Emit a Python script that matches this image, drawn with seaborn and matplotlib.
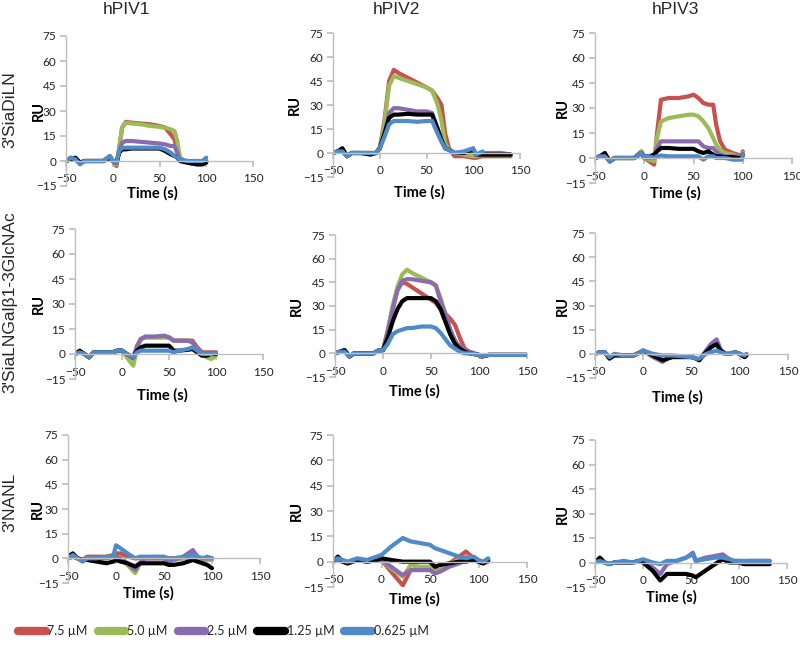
import numpy as np
import pandas as pd
import matplotlib.pyplot as plt
import seaborn as sns
from matplotlib.lines import Line2D

# labels
columns = ["hPIV1", "hPIV2", "hPIV3"]
rows = ["3'SiaDiLN", "3'SiaLNGalβ1-3GlcNAc", "3'NANL"]
concs = ["7.5 µM", "5.0 µM", "2.5 µM", "1.25 µM", "0.625 µM"]
colors = ["#C9514D", "#9BBB59", "#8A6BB0", "#000000", "#4F8BC9"]
x_ticks = [-50, 0, 50, 100, 150]
y_ticks = [-15, 0, 15, 30, 45, 60, 75]

# row 1 (3'SiaDiLN), hPIV1
t11 = [-50, -45, -40, -35, -30, -20, -10, -3, 0, 4, 7, 10, 14, 20, 30, 40, 50, 56, 62, 66, 69, 72, 80, 90, 96, 100]
r11 = [0, 2, 1, -1, 0, 0, 0, 3, 0, -3, 8, 20, 23.5, 23, 22.5, 22, 21, 20, 16, 13, 6, 1, -1, -2, -2, 0]
g11 = [0, 1, 1, -1, 0, 0, 0, 3, 0, -2, 8, 20, 23, 22.5, 22, 21, 20.5, 20, 19, 18, 12, 2, -1, -1, -1, 0]
p11 = [0, 1, 1, -1, 0, 0, 0, 2, 0, -1, 6, 11, 12, 12, 11.5, 11, 10.5, 10, 9, 9, 5, 0, -1, -2, -1, 0]
k11 = [0, 1, 2, -1, 0, 0, 0, 2, 0, -1, 5, 7, 7, 7.5, 7.5, 7.5, 7.5, 6, 4, 3, 2, 0, -1, -2, -2, -1]
b11 = [0, 2, 1, -2, 0, 0, 0, 3, 0, -1, 6, 8, 8, 8, 8, 8, 8, 7, 5, 3, 2, 1, 0, 0, 0, 2]

# row 1, hPIV2
t12 = [-50, -45, -40, -35, -30, -20, -10, -4, 0, 5, 10, 15, 20, 30, 40, 50, 56, 62, 66, 70, 74, 80, 90, 100, 103, 110, 120, 130, 140]
r12 = [0, 1, 1, -2, 0, 0, 0, 0, 3, 20, 45, 52, 50, 47, 44, 41, 39, 34, 30, 12, 3, -2, -2, -3, -3, -2, -2, -2, -2]
g12 = [0, 1, 1, -2, 0, 0, 0, 0, 3, 18, 42, 48, 47, 45, 43, 41, 39, 30, 20, 6, 2, 0, -1, -2, -2, -1, -1, -1, -1]
p12 = [0, 1, 2, -2, 0, 0, 0, 0, 3, 12, 25, 28, 28, 27, 26, 26, 25, 15, 8, 3, 2, 0, 0, 1, -1, 0, 0, 0, -1]
k12 = [0, 1, 3, -2, 0, 0, -1, 0, 3, 12, 22, 24, 24, 24.5, 24, 24, 24, 15, 8, 3, 2, 0, 0, 2, -1, -1, -1, -1, -1]
b12 = [0, 1, 1, -2, 0, 0, 0, 0, 3, 10, 18, 20, 20, 20, 19.5, 20, 20, 12, 7, 3, 2, 0, 1, 3, -1, 1, None, None, None]

# row 1, hPIV3
t13 = [-50, -45, -40, -35, -30, -20, -10, -3, 0, 5, 10, 13, 17, 25, 35, 45, 50, 55, 60, 65, 70, 73, 77, 82, 90, 95, 99, 100]
r13 = [0, 1, 2, -2, 0, 0, 0, 4, 0, -2, -4, 15, 35, 36, 36, 37, 38, 36, 33, 32, 32, 20, 10, 5, 3, 2, 1, 4]
g13 = [0, 1, 2, -2, 0, 0, 0, 4, 0, -1, -2, 12, 22, 24, 25, 26, 26, 25, 22, 18, 12, 8, 5, 3, 2, 1, 1, 3]
p13 = [0, 1, 2, -2, 0, 0, 0, 3, 0, 0, 1, 6, 10, 10, 10, 10, 10, 10, 7, 6, 6, 4, 2, 1, 1, 1, 0, 2]
k13 = [0, 1, 3, -2, 0, 0, 0, 3, 1, 1, 2, 4, 6, 6, 5.5, 5.5, 5.5, 4, 3, 4, 2, 1, 1, 0.5, 0.5, 0, 0, 2]
b13 = [0, 1, 1, -2, 0, 0, 0, 3, 1, 1, 0, 1, 1.5, 1, 1, 1, 1, 1, -1, 1, 1, 0, 0, 0, -1, -1, -1, 2]

# row 2 (3'SiaLNGalb1-3GlcNAc), hPIV1
t21 = [-50, -45, -40, -35, -30, -20, -10, -5, 0, 5, 12, 16, 20, 25, 35, 45, 50, 55, 60, 70, 75, 80, 85, 90, 95, 100]
r21 = [0, 1, 0, -2, 1, 1, 1, 2, 2, 0, -3, 4, 9, 10, 10, 10, 10, 8, 8, 8, 8, 4, 1, 1, 1, 1]
g21 = [0, 1, 0, -2, 1, 1, 1, 2, 2, -2, -7, 3, 9, 10, 10, 10, 10, 8, 8, 8, 7, 3, 0, -2, -3, -1]
p21 = [0, 1, 0, -2, 1, 1, 1, 2, 2, 0, -2, 5, 9, 10.5, 10.5, 11, 10, 8, 8, 8, 7, 3, 1, 0, 0, 0]
k21 = [0, 2, 0, -2, 1, 1, 1, 2, 2, 0, -2, 2, 4, 5, 5, 5, 5, 2, 2, 2.5, 3, 1, -1, -1, 0, 0]
b21 = [0, 1, 0, -2, 1, 1, 1, 2, 2, 0, -2, 1, 2, 2, 2, 2, 2, 1, 2, 3, 4, 2, 0, 0, 0, 1]

# row 2, hPIV2
t22 = [-50, -45, -40, -35, -30, -20, -10, -4, 0, 5, 10, 15, 20, 25, 30, 40, 50, 55, 60, 65, 70, 75, 80, 85, 90, 100, 103, 110, 120, 130, 140, 150]
r22 = [0, 1, 2, -2, 0, 0, 0, 2, 2, 14, 28, 40, 45, 44, 42, 38, 34, 32, 28, 25, 22, 18, 10, 3, 1, -1, -2, -1, -1, -1, -1, -1]
g22 = [0, 1, 2, -2, 0, 0, 0, 2, 2, 15, 30, 42, 50, 53, 51, 48, 45, 43, 35, 25, 15, 8, 3, 1, 0, -1, -2, -1, -1, -1, -1, -1]
p22 = [0, 1, 2, -2, 0, 0, 0, 2, 2, 14, 28, 40, 46, 47, 47, 46, 45, 43, 33, 25, 15, 8, 4, 2, 1, -1, -2, -1, -1, -1, -1, -1]
k22 = [0, 1, 2, -2, 0, 0, 0, 2, 2, 10, 20, 28, 33, 35, 35, 35, 35, 33, 28, 20, 12, 6, 3, 1, 0, -1, -2, -1, -1, -1, -1, -1]
b22 = [0, 1, 1, -2, 0, 0, 0, 2, 2, 6, 12, 14, 15, 16, 16, 17, 17, 16, 13, 9, 5, 3, 1, 0, 0, -1, -2, -1, -1, -1, -1, -1]

# row 2, hPIV3 (only three traces visible)
t23 = [-50, -45, -40, -35, -30, -20, -10, -3, 0, 10, 20, 25, 30, 40, 50, 55, 58, 65, 70, 76, 80, 85, 90, 95, 100, 105, 107]
p23 = [0, 1, 1, -2, -1, -1, -1, 1, 2, -2, -5, -3, -2, -2, -2, -3, -4, 2, 6, 9, 3, 0, 0, 1, 0, -2, -1]
k23 = [0, 1, 1, -3, -1, -1, -1, 1, 2, -1, -4, -3, -2, -2, -2, -3, -4, 1, 4, 6, 2, 0, 0, 1, 0, -2, -1]
b23 = [0, 1, 1, -2, 0, -1, -1, 1, 2, 0, -1, -1, -1, -1.5, -2, -3, -3, 0, 1, 2, 1, 0, 0, 1, 0, -1, 0]

# row 3 (3'NANL), hPIV1
t31 = [-50, -45, -40, -35, -30, -20, -10, -3, 0, 5, 12, 20, 25, 30, 40, 50, 55, 60, 70, 80, 85, 90, 95, 100]
r31 = [0, 1, 0, -1, 1, 1, 1, 2, 3, 3, 1, 0, 0, 0, 0, 0, 0, 0, 0, 1, 0, 0, 0, 0]
g31 = [0, 1, 0, -1, 0, 0, 0, 1, 1, 0, -4, -9, -3, 0, 1, 0, -2, -1, 0, 2, 0, -2, -1, -1]
p31 = [0, 1, 0, -1, 0, 0, 0, 1, 1, 0, -3, -7, -3, 0, 0, 0, -2, -1, 1, 5, 1, 0, 0, 0]
k31 = [1, 3, 0, -1, -1, -2, -3, -2, -1, -2, -3, -5, -3, -3, -3, -3, -4, -4, -3, -1, -2, -3, -4, -6]
b31 = [0, 2, 0, -2, 0, 0, 1, 1, 8, 6, 3, 0, 1, 1, 1, 1, 0, 0, 1, 2, 1, 0, 1, 0]

# row 3, hPIV2
t32 = [-50, -45, -40, -35, -30, -25, -15, -5, 0, 10, 22, 30, 40, 50, 55, 60, 70, 80, 87, 95, 100, 105, 110]
r32 = [0, 1, 0, -1, 0, 1, 0, 1, 1, -6, -14, -5, -4, -4, -5, -5, -1, 3, 6, 2, 0, -1, 1]
g32 = [0, 1, 0, -1, 0, 1, 0, 1, 1, -4, -9, -2, -3, -3, -6, -5, -1, 1, 3, 2, 0, -1, 1]
p32 = [0, 1, 0, -1, 0, 1, 0, 1, 1, -3, -8, -5, -5, -5, -7, -6, -3, -1, 1, 1, 0, -1, 0]
k32 = [0, 3, 0, -1, 0, 1, 0, 1, 2, 1, 0, 0, 0, 0, -3, -2, -1, 0, 0, 1, 0, -1, 1]
b32 = [1, 2, 1, 0, 1, 2, 1, 3, 4, 9, 14, 12, 11, 10, 8, 7, 5, 3, 2, 3, 1, 0, 2]

# row 3, hPIV3 (only three traces visible)
t33 = [-50, -45, -40, -35, -30, -20, -10, -5, 0, 10, 18, 25, 35, 45, 52, 55, 65, 75, 83, 90, 95, 100, 105, 110, 120, 132]
p33 = [0, 1, 0, -1, 0, 0, 0, 1, 1, -3, -7, -1, 1, 3, 6, 1, 3, 4, 5, 2, 1, 1, 0, 1, 1, 1]
k33 = [0, 3, 0, -1, 0, 0, 0, 1, 0, -5, -11, -7, -7, -7, -8, -9, -5, -1, 2, 0, 0, 0, -1, -1, -1, -1]
b33 = [0, 1, 0, -1, 0, 1, 0, 1, 2, 0, -1, 1, 1, 3, 5, 1, 2, 3, 3, 2, 1, 1, 1, 1, 1, 1]

panels = [
    (t11, [r11, g11, p11, k11, b11]), (t12, [r12, g12, p12, k12, b12]), (t13, [r13, g13, p13, k13, b13]),
    (t21, [r21, g21, p21, k21, b21]), (t22, [r22, g22, p22, k22, b22]), (t23, [None, None, p23, k23, b23]),
    (t31, [r31, g31, p31, k31, b31]), (t32, [r32, g32, p32, k32, b32]), (t33, [None, None, p33, k33, b33]),
]

# panel boxes in pixels: left, top, right, bottom, RU x, "Time" x, "Time" y
layout = [
    (66, 36, 253, 186, 39, 152, 193), (333, 33, 520, 177, 295, 419, 192), (595, 33, 792, 183, 563, 675, 193),
    (75, 229, 263, 379, 39, 162, 395), (335, 235, 527, 377, 297, 414, 391), (595, 233, 788, 378, 563, 677, 397),
    (68, 435, 260, 583, 38, 148, 593), (333, 435, 527, 587, 297, 414, 599), (595, 440, 787, 587, 563, 671, 597),
]

W, H = 800, 652
sns.set_theme(style="white")
plt.rcParams["font.family"] = ["Lato", "DejaVu Sans"]

fig = plt.figure(figsize=(W / 100, H / 100), dpi=100)
axis_grey = "#BFBFBF"

for (t, series), (l, tp, r, b, ru_x, tx, ty) in zip(panels, layout):
    ax = fig.add_axes([l / W, 1 - b / H, (r - l) / W, (b - tp) / H])
    frames = []
    for conc, vals in zip(concs, series):
        if vals is None:
            continue
        frames.append(pd.DataFrame({"time": t, "RU": vals, "conc": conc}))
    df = pd.concat(frames).dropna()
    sns.lineplot(data=df, x="time", y="RU", hue="conc", hue_order=concs,
                 palette=colors, linewidth=3.0, estimator=None, sort=False,
                 legend=False, ax=ax)
    ax.set_xlim(-50, 150)
    ax.set_ylim(-15, 75)
    ax.set_xticks(x_ticks)
    ax.set_yticks(y_ticks)
    for s in ["top", "right"]:
        ax.spines[s].set_visible(False)
    ax.spines["bottom"].set_position(("data", 0))
    for s in ["left", "bottom"]:
        ax.spines[s].set_color(axis_grey)
        ax.spines[s].set_linewidth(1)
    ax.tick_params(axis="both", direction="out", length=4, color=axis_grey,
                   labelsize=8.5, labelcolor="#222222", bottom=True, left=True)
    ax.tick_params(axis="x", pad=5)
    ax.tick_params(axis="y", pad=3)
    ax.set_xlabel("Time (s)", fontsize=10.5, fontweight="bold", color="black")
    ax.set_ylabel("RU", fontsize=10.5, fontweight="bold", color="black")
    ax.xaxis.set_label_coords((tx - l) / (r - l), -(ty - b) / (b - tp))
    ax.xaxis.label.set_va("center")
    ax.yaxis.set_label_coords((ru_x - l) / (r - l), 0.5)
    ax.yaxis.label.set_va("center")
    ax.patch.set_alpha(0)

# column titles
for name, cx in zip(columns, [126, 396, 675]):
    fig.text(cx / W, 1 - 10 / H, name, ha="center", va="center", fontsize=12.5,
             family=["Liberation Sans", "DejaVu Sans"])

# row labels
for name, cy in zip(rows, [110, 302, 502]):
    fig.text(10 / W, 1 - cy / H, name, ha="center", va="center", rotation=90,
             fontsize=12.5, family=["Liberation Sans", "DejaVu Sans"])

handles = [Line2D([0], [0], color=c, linewidth=6, solid_capstyle="round") for c in colors]
fig.legend(handles, concs, loc="center left", bbox_to_anchor=(18 / W, 1 - 631 / H),
           ncol=5, frameon=False, fontsize=9, handlelength=2.2, handletextpad=0.15,
           columnspacing=0.8, borderpad=0, borderaxespad=0)

fig.savefig("out.png", dpi=100)
